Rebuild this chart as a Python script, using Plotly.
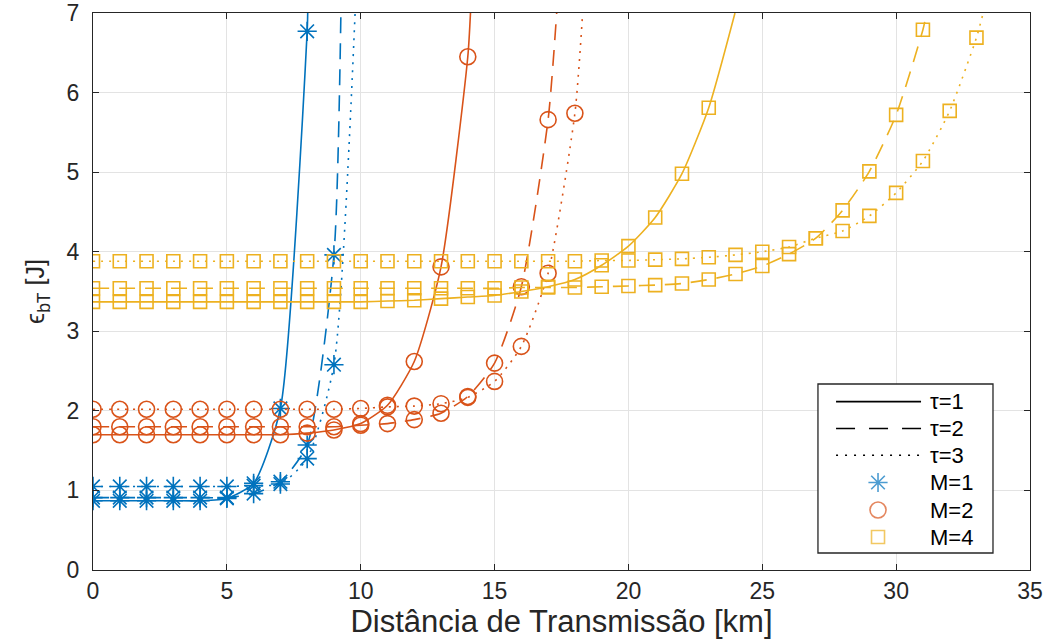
import plotly.graph_objects as go

# ---------------- data ----------------
# M = 1
m1_t1_x = [0, 1, 2, 3, 4, 5, 6, 7, 8]
m1_t1_y = [0.87, 0.87, 0.87, 0.87, 0.87, 0.90, 1.09, 2.03, 6.77]
m1_t1_exit = 8.02

m1_t2_x = [0, 1, 2, 3, 4, 5, 6, 7, 8, 9]
m1_t2_y = [0.91, 0.91, 0.91, 0.91, 0.91, 0.91, 0.96, 1.11, 1.57, 3.96]
m1_t2_exit = 9.26

m1_t3_x = [0, 1, 2, 3, 4, 5, 6, 7, 8, 9]
m1_t3_y = [1.05, 1.05, 1.05, 1.05, 1.05, 1.05, 1.06, 1.08, 1.40, 2.58]
m1_t3_exit = 9.79

# M = 2
m2_t1_x = [0, 1, 2, 3, 4, 5, 6, 7, 8, 9, 10, 11, 12, 13, 14]
m2_t1_y = [1.70, 1.70, 1.70, 1.70, 1.70, 1.70, 1.70, 1.70, 1.72, 1.76,
           1.84, 2.07, 2.62, 3.81, 6.45]
m2_t1_exit = 14.10

m2_t2_x = [0, 1, 2, 3, 4, 5, 6, 7, 8, 9, 10, 11, 12, 13, 14, 15, 16, 17]
m2_t2_y = [1.80, 1.80, 1.80, 1.80, 1.80, 1.80, 1.80, 1.80, 1.80, 1.80,
           1.82, 1.84, 1.89, 1.97, 2.18, 2.60, 3.56, 5.66]
m2_t2_exit = 17.32

m2_t3_x = [0, 1, 2, 3, 4, 5, 6, 7, 8, 9, 10, 11, 12, 13, 14, 15, 16, 17, 18]
m2_t3_y = [2.02, 2.02, 2.02, 2.02, 2.02, 2.02, 2.02, 2.02, 2.02, 2.02,
           2.03, 2.05, 2.06, 2.09, 2.17, 2.37, 2.81, 3.73, 5.74]
m2_t3_exit = 18.29

# M = 4
m4_t1_x = list(range(0, 24))
m4_t1_y = [3.37, 3.37, 3.37, 3.37, 3.37, 3.37, 3.37, 3.37, 3.37, 3.37,
           3.37, 3.38, 3.39, 3.41, 3.43, 3.45, 3.50, 3.56, 3.65, 3.83,
           4.07, 4.43, 4.98, 5.81]
m4_t1_exit = 23.98

m4_t2_x = list(range(0, 32))
m4_t2_y = [3.54, 3.54, 3.54, 3.54, 3.54, 3.54, 3.54, 3.54, 3.54, 3.54,
           3.54, 3.54, 3.54, 3.54, 3.54, 3.54, 3.55, 3.55, 3.55, 3.56,
           3.57, 3.58, 3.60, 3.65, 3.72, 3.82, 3.97, 4.17, 4.52, 5.01,
           5.72, 6.79]
m4_t2_exit = 31.14

m4_t3_x = list(range(0, 34))
m4_t3_y = [3.88, 3.88, 3.88, 3.88, 3.88, 3.88, 3.88, 3.88, 3.88, 3.88,
           3.88, 3.88, 3.88, 3.88, 3.88, 3.88, 3.88, 3.88, 3.88, 3.89,
           3.89, 3.90, 3.91, 3.93, 3.96, 4.00, 4.06, 4.17, 4.26, 4.45,
           4.74, 5.14, 5.77, 6.69]
m4_t3_exit = 33.25

x_ticks = [0, 5, 10, 15, 20, 25, 30, 35]
y_ticks = [0, 1, 2, 3, 4, 5, 6, 7]
legend_labels = ["τ=1", "τ=2", "τ=3", "M=1", "M=2", "M=4"]

# ---------------- styles ----------------
BLUE = "#0072BD"
ORANGE = "#D95319"
YELLOW = "#EDB120"
DASHES = {1: "solid", 2: "16px,10px", 3: "2px,6px"}
LEG_DASHES = {1: "solid", 2: "19px,14px", 3: "2px,7px"}
FONT = "Liberation Sans, Arial, sans-serif"
LW = 1.6
X_RANGE = [0, 35]
Y_RANGE = [0, 7]

fig = go.Figure()

series = [
    (m1_t1_x, m1_t1_y, m1_t1_exit, 1, BLUE, "asterisk-open", 16),
    (m1_t2_x, m1_t2_y, m1_t2_exit, 2, BLUE, "asterisk-open", 16),
    (m1_t3_x, m1_t3_y, m1_t3_exit, 3, BLUE, "asterisk-open", 16),
    (m2_t1_x, m2_t1_y, m2_t1_exit, 1, ORANGE, "circle-open", 16),
    (m2_t2_x, m2_t2_y, m2_t2_exit, 2, ORANGE, "circle-open", 16),
    (m2_t3_x, m2_t3_y, m2_t3_exit, 3, ORANGE, "circle-open", 16),
    (m4_t1_x, m4_t1_y, m4_t1_exit, 1, YELLOW, "square-open", 13),
    (m4_t2_x, m4_t2_y, m4_t2_exit, 2, YELLOW, "square-open", 13),
    (m4_t3_x, m4_t3_y, m4_t3_exit, 3, YELLOW, "square-open", 13),
]

for xs, ys, xexit, tau, col, sym, size in series:
    fig.add_trace(go.Scatter(
        x=list(xs) + [xexit], y=list(ys) + [Y_RANGE[1]], mode="lines",
        line=dict(color=col, width=LW, dash=DASHES[tau], shape="spline", smoothing=0.6),
        showlegend=False, hoverinfo="skip"))
    fig.add_trace(go.Scatter(
        x=xs, y=ys, mode="markers",
        marker=dict(symbol=sym, size=size, color=col, line=dict(color=col, width=LW)),
        showlegend=False, hoverinfo="skip"))

# ---------------- hand-built legend (MATLAB style) ----------------
# positions are fractions of the plot area
LEG_BOX = (0.7737, 0.0305, 0.9605, 0.3339)
LEG_ROWS = [0.3022, 0.2541, 0.2060, 0.1571, 0.1077, 0.0592]
LEG_LINE_X = (0.7930, 0.8837)
LEG_MARK_X = 0.8378
LEG_TEXT_X = 0.8911


def fx(f):
    return X_RANGE[0] + f * (X_RANGE[1] - X_RANGE[0])


def fy(f):
    return Y_RANGE[0] + f * (Y_RANGE[1] - Y_RANGE[0])


shapes = [dict(type="rect", xref="x", yref="y",
               x0=fx(LEG_BOX[0]), y0=fy(LEG_BOX[1]), x1=fx(LEG_BOX[2]), y1=fy(LEG_BOX[3]),
               fillcolor="white", line=dict(color="#262626", width=1.3), layer="between")]
for tau, ry in zip([1, 2, 3], LEG_ROWS[:3]):
    shapes.append(dict(type="line", xref="x", yref="y",
                       x0=fx(LEG_LINE_X[0]), x1=fx(LEG_LINE_X[1]), y0=fy(ry), y1=fy(ry),
                       line=dict(color="black", width=LW, dash=LEG_DASHES[tau]),
                       layer="between"))

annotations = [dict(xref="x domain", yref="y domain", x=LEG_TEXT_X, y=ry, text=lab,
                    showarrow=False, xanchor="left", yanchor="middle",
                    font=dict(family=FONT, size=22, color="black"))
               for lab, ry in zip(legend_labels, LEG_ROWS)]

fig.add_trace(go.Scatter(
    x=[LEG_MARK_X] * 3, y=LEG_ROWS[3:], mode="markers", xaxis="x2", yaxis="y2",
    marker=dict(symbol=["asterisk-open", "circle-open", "square-open"],
                size=[16, 16, 13], color=[BLUE, ORANGE, YELLOW],
                line=dict(color=[BLUE, ORANGE, YELLOW], width=LW)),
    showlegend=False, hoverinfo="skip"))

axis_common = dict(
    showgrid=True, gridcolor="#e3e3e3", gridwidth=1,
    showline=True, linecolor="#262626", linewidth=1.2, mirror="ticks",
    ticks="inside", ticklen=6, tickcolor="#262626", tickwidth=1.2,
    zeroline=False, automargin=False,
    tickfont=dict(family=FONT, size=23, color="#262626"),
)

fig.update_layout(
    width=1052, height=641,
    margin=dict(l=93, r=22, t=13, b=71, autoexpand=False),
    paper_bgcolor="white", plot_bgcolor="white",
    font=dict(family=FONT, color="#262626"),
    xaxis=dict(range=X_RANGE, tickvals=x_ticks, ticktext=[str(v) for v in x_ticks],
               title=dict(text="Distância de Transmissão [km]", font=dict(family=FONT, size=31), standoff=4),
               **axis_common),
    yaxis=dict(range=Y_RANGE, tickvals=y_ticks, ticktext=[str(v) for v in y_ticks],
               ticklabelstandoff=8,
               title=dict(text="ϵ<sub>bT</sub> [J]", font=dict(family=FONT, size=25), standoff=14),
               **axis_common),
    xaxis2=dict(overlaying="x", range=[0, 1], visible=False, fixedrange=True, automargin=False),
    yaxis2=dict(overlaying="y", range=[0, 1], visible=False, fixedrange=True, automargin=False),
    shapes=shapes,
    annotations=annotations,
    showlegend=False,
)

fig.write_html("out.html")
